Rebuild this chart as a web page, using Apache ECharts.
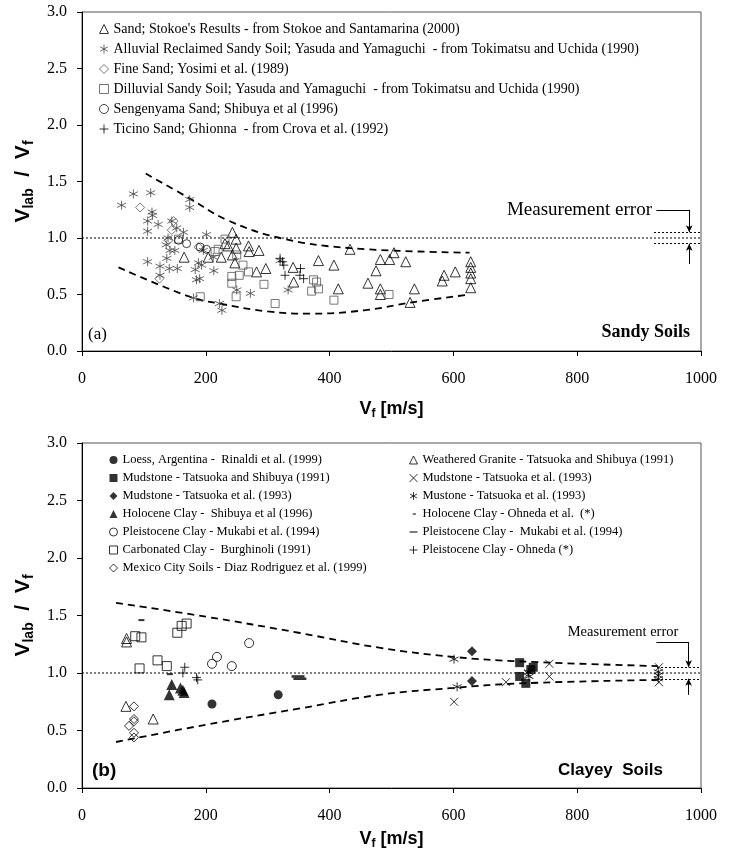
<!DOCTYPE html>
<html>
<head>
<meta charset="utf-8">
<script src="https://cdn.jsdelivr.net/npm/echarts@6/dist/echarts.min.js"></script>
<style>html,body{margin:0;background:#fff}#main{width:734px;height:852px}</style>
</head>
<body>
<div id="main"></div>
<script>
// ---- (a) sandy soils : [Vf, Vlab/Vf]
var sandStokoe = [[243,1.05],[249,0.99],[231,0.95],[236,0.93],[249,0.91],[243,0.85],[269,0.93],[270,0.88],[286,0.89],[247,0.78],[165,0.83],[204,0.83],[225,0.83],[282,0.70],[297,0.73],[341,0.74],[342,0.61],[382,0.80],[407,0.76],[414,0.55],[433,0.90],[482,0.81],[497,0.81],[504,0.87],[523,0.79],[475,0.71],[462,0.60],[482,0.55],[482,0.50],[537,0.55],[530,0.43],[585,0.67],[582,0.62],[603,0.70],[628,0.79],[628,0.74],[628,0.69],[628,0.64],[628,0.56]];
var alluvial = [[64,1.29],[83,1.39],[111,1.40],[113,1.23],[114,1.20],[106,1.15],[106,1.06],[123,1.12],[106,0.79],[174,1.34],[174,1.27],[145,1.15],[153,1.09],[164,1.05],[139,1.00],[136,0.94],[142,0.89],[137,0.82],[126,0.75],[126,0.67],[141,0.73],[154,0.73],[150,0.89],[183,0.72],[188,0.78],[193,0.76],[185,0.63],[190,0.64],[201,1.03],[212,0.83],[213,0.71],[180,0.47],[222,0.42],[226,0.36],[250,0.54],[272,0.51],[333,0.54],[196,0.89],[320,0.80]];
var fineSand = [[94,1.27],[148,1.15],[145,1.07],[188,0.92],[125,0.64],[140,0.98]];
var dilluvial = [[156,0.99],[191,0.48],[215,0.88],[220,0.90],[231,0.99],[250,0.85],[242,0.66],[242,0.60],[254,0.67],[260,0.76],[269,0.70],[294,0.59],[249,0.48],[312,0.42],[374,0.63],[379,0.61],[371,0.53],[382,0.55],[407,0.45],[496,0.50]];
var sengenyama = [[156,0.98],[169,0.95],[191,0.92],[201,0.90]];
var ticino = [[320,0.82],[324,0.79],[326,0.76],[328,0.67],[353,0.73],[352,0.67],[358,0.64]];
var sandyUpper = [[103,1.57],[174,1.35],[234,1.16],[320,1.00],[434,0.91],[626,0.87]];
var sandyLower = [[59,0.74],[174,0.48],[222,0.42],[300,0.35],[370,0.33],[456,0.36],[533,0.43],[626,0.50]];

// ---- (b) clayey soils
var loess = [[210,0.73],[317,0.81]];
var mudstoneTS = [[707,1.09],[707,0.97],[717,0.91],[729,1.05],[725,1.03]];
var mudstoneT93 = [[630,1.19],[630,0.93]];
var holoceneShibuya = [[145,0.90],[141,0.81],[159,0.87],[165,0.83],[163,0.85]];
var pleistoMukabi = [[210,1.08],[218,1.14],[242,1.06],[270,1.26]];
var carbonated = [[86,1.32],[96,1.31],[93,1.04],[122,1.11],[137,1.06],[154,1.35],[161,1.41],[169,1.43]];
var mexico = [[84,0.71],[84,0.60],[84,0.58],[76,0.54],[84,0.48],[84,0.44]];
var granite = [[72,1.30],[72,1.27],[71,0.71],[115,0.60]];
var mudstoneX = [[601,0.75],[685,0.92],[721,0.99],[755,1.08],[755,0.97],[932,1.05],[932,0.92]];
var mustone = [[601,1.12],[606,0.88],[931,1.01],[931,0.98],[931,0.95],[721,1.01],[722,0.97]];
var holoceneOhneda = [[96,1.46],[142,0.99]];
var pleistoMukabiDash = [[349,0.97],[352,0.95]];
var pleistoOhneda = [[166,1.05],[163,1.00],[185,0.96],[187,0.94]];
var clayUpper = [[55,1.61],[200,1.49],[350,1.35],[480,1.22],[600,1.14],[710,1.10],[930,1.06]];
var clayLower = [[55,0.40],[200,0.55],[350,0.69],[480,0.81],[600,0.87],[710,0.91],[930,0.94]];

var myChart = echarts.init(document.getElementById('main'));

var SERIF = '"Liberation Serif", "Times New Roman", serif';
var SANS = '"Liberation Sans", Arial, sans-serif';
var ASTER = 'path://M5,0L5,10M0.67,2.5L9.33,7.5M0.67,7.5L9.33,2.5';
var PLUS = 'path://M5,0L5,10M0,5L10,5';
var CROSS = 'path://M0,0L10,10M0,10L10,0';
var DASH = 'path://M0,0L10,0L10,2L0,2Z';
// legend icons for the two dash markers (padded so the short one stays short)
var DASH_SHORT_ICON = 'path://M0,0M4,4.2L8,4.2L8,5.8L4,5.8ZM10,10';
var DASH_LONG_ICON = 'path://M0,0M0,4.2L10,4.2L10,5.8L0,5.8ZM10,10';

function hollow(c) { return {color: 'transparent', borderColor: c, borderWidth: 1}; }
function solid(c) { return {color: c, borderWidth: 0}; }

function pts(name, data, g, symbol, size, style) {
  return {
    name: name, type: 'scatter', xAxisIndex: g, yAxisIndex: g,
    data: data, symbol: symbol, symbolSize: size, itemStyle: style,
    emphasis: {disabled: true}, silent: true, z: 3
  };
}
function bound(data, g) {
  return {
    type: 'line', xAxisIndex: g, yAxisIndex: g, data: data, smooth: 0.4,
    symbol: 'none', silent: true, lineStyle: {color: '#000', width: 1.8, type: [7, 5]}
  };
}
function refLine(g, err) {
  return {
    type: 'line', xAxisIndex: g, yAxisIndex: g, data: [[0, 1], [1000, 1]],
    symbol: 'none', silent: true, lineStyle: {color: '#000', width: 1, type: [2, 2]},
    markLine: {
      silent: true, symbol: 'none', label: {show: false},
      lineStyle: {color: '#000', width: 1, type: [2, 2]},
      data: [
        [{coord: [err.x0, 1.05]}, {coord: [1000, 1.05]}],
        [{coord: [err.x0, 0.95]}, {coord: [1000, 0.95]}]
      ]
    }
  };
}
function bracket(g, err) {
  return {
    type: 'line', xAxisIndex: g, yAxisIndex: g, data: [[err.x, 1]],
    symbol: 'none', silent: true, lineStyle: {width: 0},
    markLine: {
      silent: true, symbol: 'none', label: {show: false}, animation: false,
      lineStyle: {color: '#000', width: 1, type: 'solid'},
      data: [
        [{coord: [err.x1, err.top]}, {coord: [err.x, err.top]}],
        [{coord: [err.x, err.top]}, {coord: [err.x, 1.05], symbol: 'arrow', symbolSize: [5, 7]}],
        [{coord: [err.x, err.bot]}, {coord: [err.x, 0.95], symbol: 'arrow', symbolSize: [5, 7]}]
      ]
    }
  };
}

function xAx(g, gap) {
  return {
    gridIndex: g, type: 'value', min: 0, max: 1000, interval: 200,
    axisLine: {show: true, lineStyle: {color: '#000', width: 1}},
    axisTick: {show: true, length: 5, lineStyle: {color: '#000'}},
    splitLine: {show: false},
    axisLabel: {fontFamily: SERIF, fontSize: 16, color: '#000', margin: 20,
      formatter: function (v) { return String(v); }},
    name: '{v|V}{s|f}{v| [m/s]}', nameLocation: 'middle', nameGap: gap,
    nameTextStyle: {rich: {
      v: {fontFamily: SANS, fontWeight: 'bold', fontSize: 18, color: '#000'},
      s: {fontFamily: SANS, fontWeight: 'bold', fontSize: 12, color: '#000', verticalAlign: 'bottom', padding: [10, 0, 0, 0]}
    }}
  };
}
function yAx(g) {
  return {
    gridIndex: g, type: 'value', min: 0, max: 3, interval: 0.5,
    axisLine: {show: true, lineStyle: {color: '#000', width: 1}},
    axisTick: {show: true, length: 5, lineStyle: {color: '#000'}},
    splitLine: {show: false},
    axisLabel: {fontFamily: SERIF, fontSize: 16, color: '#000', margin: 15,
      formatter: function (v) { return v.toFixed(1); }},
    name: '{v|V}{s|lab}{v|  /  V}{s|f}', nameLocation: 'middle', nameGap: 44,
    nameTextStyle: {rich: {
      v: {fontFamily: SANS, fontWeight: 'bold', fontSize: 21, color: '#000'},
      s: {fontFamily: SANS, fontWeight: 'bold', fontSize: 14, color: '#000', verticalAlign: 'bottom', padding: [12, 0, 0, 0]}
    }}
  };
}

var topNames = [
  "Sand; Stokoe's Results - from Stokoe and Santamarina (2000)",
  'Alluvial Reclaimed Sandy Soil; Yasuda and Yamaguchi  - from Tokimatsu and Uchida (1990)',
  'Fine Sand; Yosimi et al. (1989)',
  'Dilluvial Sandy Soil; Yasuda and Yamaguchi  - from Tokimatsu and Uchida (1990)',
  'Sengenyama Sand; Shibuya et al (1996)',
  'Ticino Sand; Ghionna  - from Crova et al. (1992)'
];
var leftNames = [
  'Loess, Argentina -  Rinaldi et al. (1999)',
  'Mudstone - Tatsuoka and Shibuya (1991)',
  'Mudstone - Tatsuoka et al. (1993)',
  'Holocene Clay -  Shibuya et al (1996)',
  'Pleistocene Clay - Mukabi et al. (1994)',
  'Carbonated Clay -  Burghinoli (1991)',
  'Mexico City Soils - Diaz Rodriguez et al. (1999)'
];
var rightNames = [
  'Weathered Granite - Tatsuoka and Shibuya (1991)',
  'Mudstone - Tatsuoka et al. (1993) ',
  'Mustone - Tatsuoka et al. (1993)',
  'Holocene Clay - Ohneda et al.  (*)',
  'Pleistocene Clay -  Mukabi et al. (1994)',
  'Pleistocene Clay - Ohneda (*)'
];
var rightLegend = rightNames.map(function (n, i) {
  if (i === 3) return {name: n, icon: DASH_SHORT_ICON};
  if (i === 4) return {name: n, icon: DASH_LONG_ICON};
  return n;
});

var errTop = {x0: 924, x1: 928, x: 981, top: 1.25, bot: 0.77};
var errBot = {x0: 929, x1: 928, x: 980, top: 1.27, bot: 0.81};

var option = {
  animation: false,
  backgroundColor: '#fff',
  grid: [
    {left: 82, top: 12, width: 619, height: 339, show: true, borderColor: '#555', borderWidth: 1},
    {left: 82, top: 443, width: 619, height: 345, show: true, borderColor: '#555', borderWidth: 1}
  ],
  xAxis: [xAx(0, 47), xAx(1, 40)],
  yAxis: [yAx(0), yAx(1)],
  legend: [
    {data: topNames, orient: 'vertical', left: 99, top: 21, padding: 0, itemGap: 4,
      itemWidth: 9, itemHeight: 9, selectedMode: false, itemStyle: {borderWidth: 1},
      textStyle: {fontFamily: SERIF, fontSize: 14, color: '#000', lineHeight: 16}},
    {data: leftNames, orient: 'vertical', left: 109, top: 453, padding: 0, itemGap: 4,
      itemWidth: 8, itemHeight: 8, selectedMode: false, itemStyle: {borderWidth: 1},
      textStyle: {fontFamily: SERIF, fontSize: 12.5, color: '#000', lineHeight: 14}},
    {data: rightLegend, orient: 'vertical', left: 409, top: 453, padding: 0, itemGap: 4,
      itemWidth: 8, itemHeight: 8, selectedMode: false, itemStyle: {borderWidth: 1},
      textStyle: {fontFamily: SERIF, fontSize: 12.5, color: '#000', lineHeight: 14}}
  ],
  graphic: [
    {type: 'text', x: 88, y: 335, style: {text: '(a)', font: '17px ' + SERIF, fill: '#000', verticalAlign: 'middle'}},
    {type: 'text', x: 690, y: 332, style: {text: 'Sandy Soils', font: 'bold 18px ' + SERIF, fill: '#000', align: 'right', verticalAlign: 'middle'}},
    {type: 'text', x: 652, y: 210, style: {text: 'Measurement error', font: '19px ' + SERIF, fill: '#000', align: 'right', verticalAlign: 'middle'}},
    {type: 'text', x: 92, y: 771, style: {text: '(b)', font: 'bold 19px ' + SANS, fill: '#000', verticalAlign: 'middle'}},
    {type: 'text', x: 558, y: 770, style: {text: 'Clayey  Soils', font: 'bold 17px ' + SANS, fill: '#000', verticalAlign: 'middle'}},
    {type: 'text', x: 623, y: 632, style: {text: 'Measurement error', font: '14.5px ' + SERIF, fill: '#000', align: 'center', verticalAlign: 'middle'}}
  ],
  series: [
    refLine(0, errTop), bracket(0, errTop), bound(sandyUpper, 0), bound(sandyLower, 0),
    pts(topNames[0], sandStokoe, 0, 'triangle', 10, hollow('#000')),
    pts(topNames[1], alluvial, 0, ASTER, 9, hollow('#444')),
    pts(topNames[2], fineSand, 0, 'diamond', 9, hollow('#555')),
    pts(topNames[3], dilluvial, 0, 'rect', 8, hollow('#555')),
    pts(topNames[4], sengenyama, 0, 'circle', 8, hollow('#111')),
    pts(topNames[5], ticino, 0, PLUS, 9, hollow('#000')),

    refLine(1, errBot), bracket(1, errBot), bound(clayUpper, 1), bound(clayLower, 1),
    pts(leftNames[0], loess, 1, 'circle', 9, solid('#000')),
    pts(leftNames[1], mudstoneTS, 1, 'rect', 9, solid('#000')),
    pts(leftNames[2], mudstoneT93, 1, 'diamond', 10, solid('#000')),
    pts(leftNames[3], holoceneShibuya, 1, 'triangle', 11, solid('#000')),
    pts(leftNames[4], pleistoMukabi, 1, 'circle', 9, hollow('#000')),
    pts(leftNames[5], carbonated, 1, 'rect', 9, hollow('#000')),
    pts(leftNames[6], mexico, 1, 'diamond', 9, hollow('#000')),
    pts(rightNames[0], granite, 1, 'triangle', 10, hollow('#000')),
    pts(rightNames[1], mudstoneX, 1, CROSS, 8, hollow('#000')),
    pts(rightNames[2], mustone, 1, ASTER, 9, hollow('#000')),
    pts(rightNames[3], holoceneOhneda, 1, DASH, [6, 2], solid('#000')),
    pts(rightNames[4], pleistoMukabiDash, 1, DASH, [13, 2.5], solid('#000')),
    pts(rightNames[5], pleistoOhneda, 1, PLUS, 9, hollow('#000'))
  ]
};

myChart.setOption(option);
</script>
</body>
</html>
